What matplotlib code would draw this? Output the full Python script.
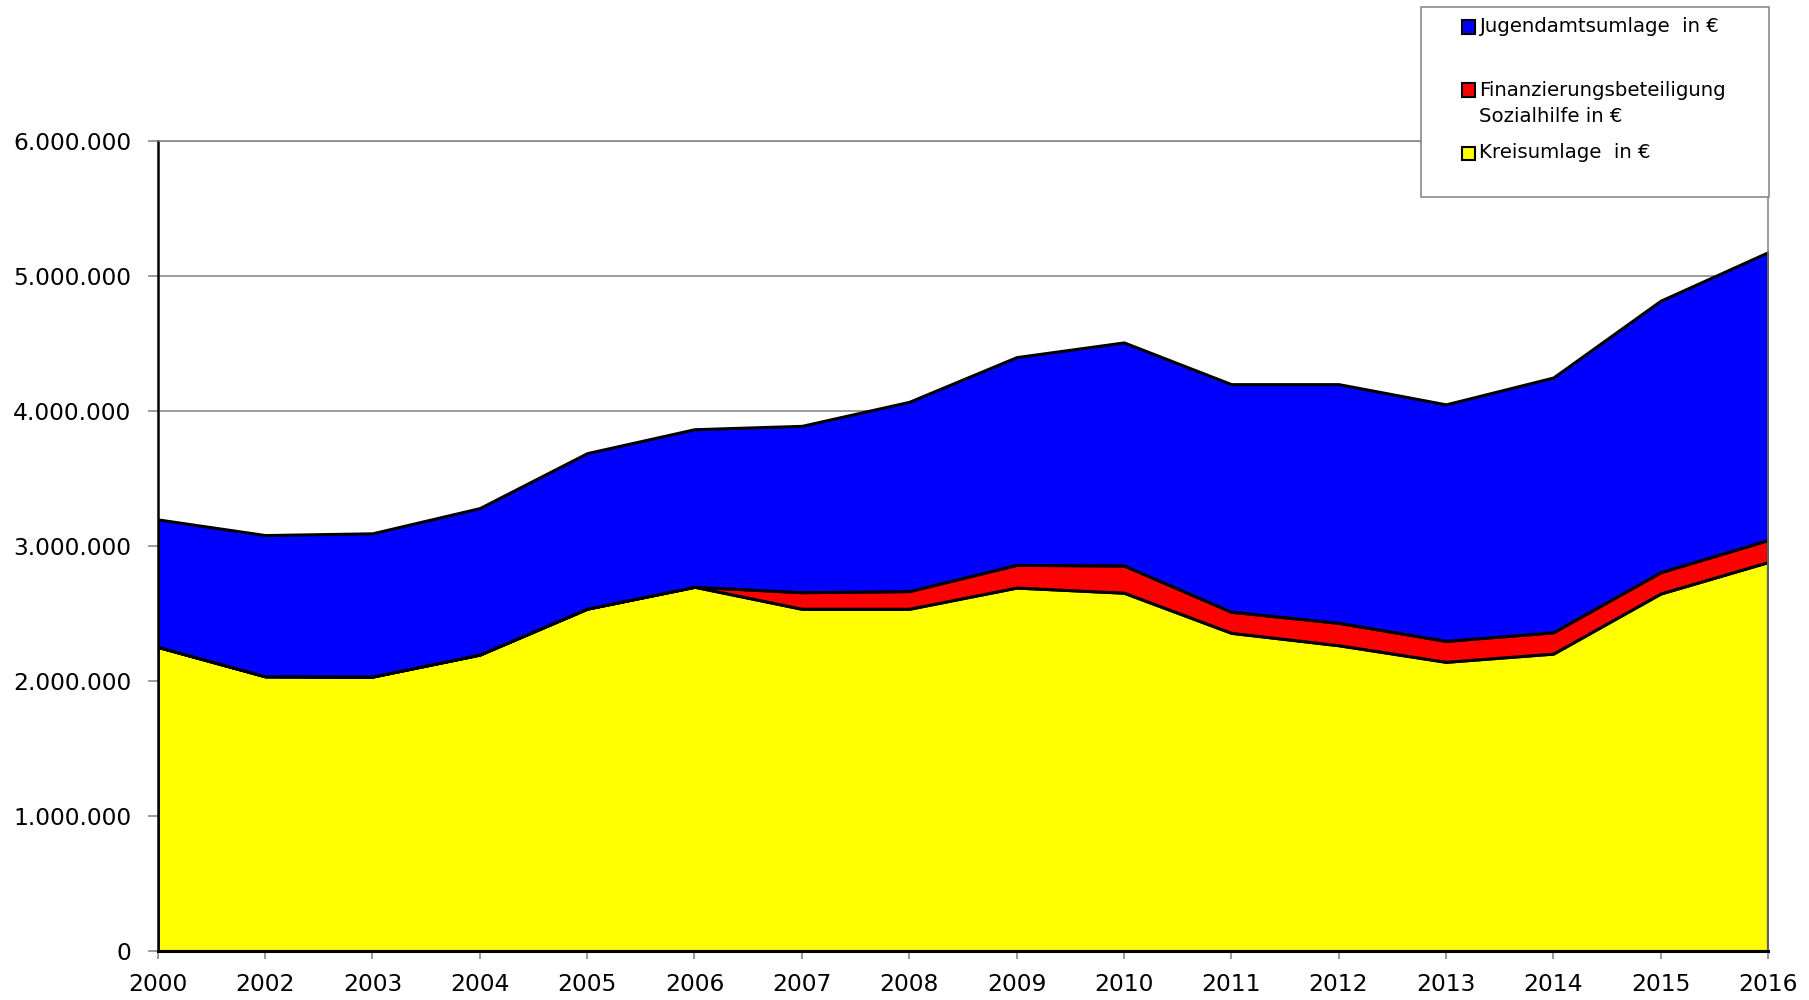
import numpy as np
import matplotlib
matplotlib.use("Agg")
import matplotlib.pyplot as plt
from matplotlib.patches import Rectangle
from matplotlib.ticker import FuncFormatter

years = ['2000', '2002', '2003', '2004', '2005', '2006', '2007', '2008',
         '2009', '2010', '2011', '2012', '2013', '2014', '2015', '2016']

# Werte in Euro
kreisumlage = [2253000, 2035000, 2033000, 2196000, 2536000, 2698000, 2535000, 2535000,
               2692000, 2654000, 2357000, 2265000, 2142000, 2203000, 2648000, 2881000]
sozialhilfe = [0, 0, 0, 0, 0, 0, 123000, 131000,
               168000, 202000, 156000, 166000, 155000, 158000, 158000, 163000]
jugendamt = [944000, 1046000, 1061000, 1085000, 1152000, 1167000, 1232000, 1402000,
             1539000, 1652000, 1686000, 1768000, 1752000, 1887000, 2011000, 2132000]

labels = ['Jugendamtsumlage  in €', 'Finanzierungsbeteiligung\nSozialhilfe in €', 'Kreisumlage  in €']
colors = ['#0000ff', '#ff0000', '#ffff00']

plt.rcParams['font.family'] = ['DejaVu Sans']

fig = plt.figure(figsize=(18.09, 10), dpi=100)
ax = fig.add_axes([0.0872, 0.049, 0.8901, 0.810])

x = np.arange(len(years))
polys = ax.stackplot(x, kreisumlage, sozialhilfe, jugendamt,
                     colors=[colors[2], colors[1], colors[0]],
                     edgecolor='black', linewidth=2.2, zorder=2)

ax.set_xlim(0, len(years) - 1)
ax.set_ylim(0, 6000000)
ax.set_yticks(np.arange(0, 6000001, 1000000))
ax.yaxis.set_major_formatter(FuncFormatter(lambda v, p: f"{int(v):,}".replace(",", ".")))
ax.set_xticks(x)
ax.set_xticklabels(years)

ax.grid(axis='y', color='#808080', linewidth=1.1, zorder=0)
ax.set_axisbelow(True)

ax.tick_params(axis='y', length=7, width=1.1, color='#808080', pad=12, labelsize=16.8)
ax.tick_params(axis='x', length=6, width=1.1, color='#808080', pad=10, labelsize=16.8)

ax.spines['left'].set_color('black')
ax.spines['left'].set_linewidth(1.8)
ax.spines['bottom'].set_color('black')
ax.spines['bottom'].set_linewidth(2.2)
ax.spines['top'].set_color('#808080')
ax.spines['top'].set_linewidth(1.1)
ax.spines['right'].set_color('#808080')
ax.spines['right'].set_linewidth(1.1)

# Legende wie im Original (Kasten oben rechts)
W, H = 1809.0, 1000.0
fig.patches.append(Rectangle((1421 / W, 1 - 197 / H), 348 / W, 190 / H,
                             transform=fig.transFigure, facecolor='white',
                             edgecolor='#808080', linewidth=1.1, zorder=5))

rows = [27, 90, 153]
text_y = [27, 103.5, 153]
for i in range(3):
    fig.patches.append(Rectangle((1462 / W, 1 - (rows[i] + 6.5) / H), 13 / W, 13 / H,
                                 transform=fig.transFigure, facecolor=colors[i],
                                 edgecolor='black', linewidth=1.5, zorder=6))
    fig.text(1479 / W, 1 - text_y[i] / H, labels[i], fontsize=14.2, va='center', ha='left',
             linespacing=1.5, zorder=7)

fig.savefig('out.png', dpi=100)
